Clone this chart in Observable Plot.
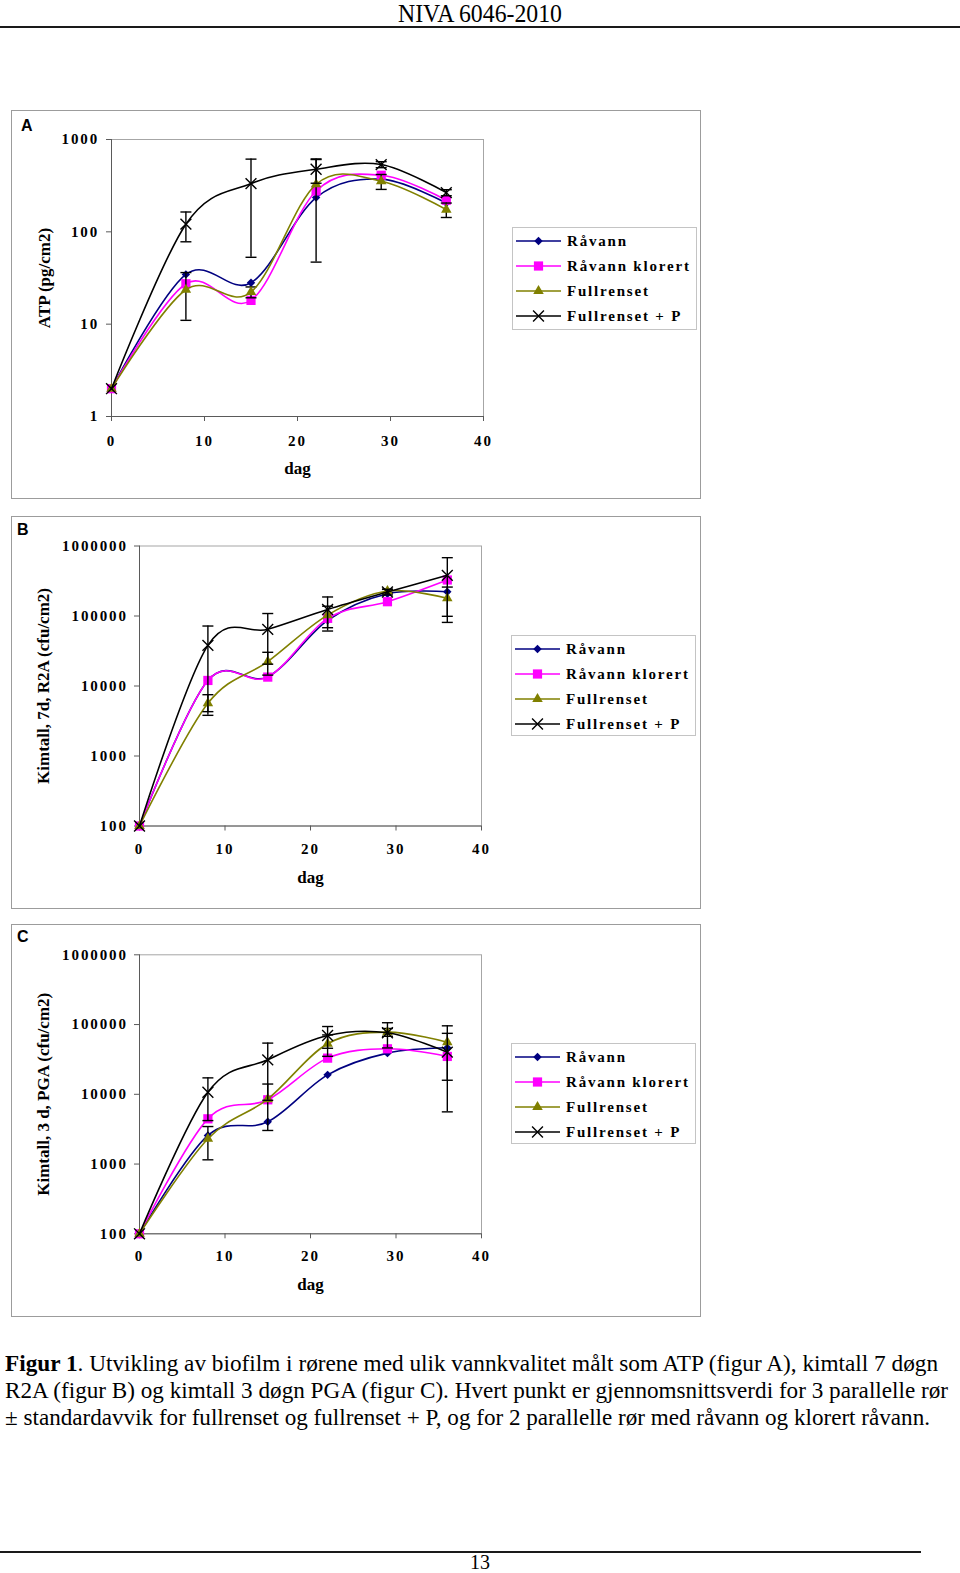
<!DOCTYPE html>
<html lang="no">
<head>
<meta charset="utf-8">
<title>Figur 1 – NIVA 6046-2010</title>
<script src="https://cdn.jsdelivr.net/npm/d3@7"></script>
<script src="https://cdn.jsdelivr.net/npm/@observablehq/plot@0.6"></script>
<style>
html,body{margin:0;padding:0;background:#fff;}
#page{position:relative;width:960px;height:1573px;overflow:hidden;background:#fff;font-family:"Liberation Serif","Times New Roman",serif;color:#000;}
.box{position:absolute;box-sizing:border-box;border:1px solid #9c9c9c;}
.plabel{position:absolute;font-family:"Liberation Sans",Arial,sans-serif;font-weight:bold;font-size:16px;line-height:16px;}
.chart{position:absolute;left:0;overflow:visible;}
.chart g[aria-label="y-axis tick label"], .chart g[aria-label="x-axis tick label"]{letter-spacing:1.9px;}
.legend{position:absolute;}
.legend text{font-family:"Liberation Serif","Times New Roman",serif;font-weight:bold;font-size:15px;letter-spacing:1.8px;}
.tline{position:absolute;white-space:nowrap;transform-origin:0 0;}
.rule{position:absolute;background:#1a1a1a;}
</style>
</head>
<body>
<div id="page"></div>
<script>
// ---------- data ----------
const days = [0, 8, 15, 22, 29, 36];
const seriesNames = ["Råvann", "Råvann klorert", "Fullrenset", "Fullrenset + P"];
const seriesColors = ["#000080", "#ff00ff", "#808000", "#000000"];
const xTicks = [0, 10, 20, 30, 40];
const xTitle = "dag";

// Panel A – ATP (pg/cm2)
const atpRavann        = [2, 34.6, 28.1, 235, 372, 205];
const atpRavannKlorert = [2, 27.4, 18.1, 277, 410, 220];
const atpFullrenset    = [2, 23.6, 22.3, 327, 353, 174];
const atpFullrensetP   = [2, 121, 333, 476, 535, 266];
const atpFullrensetSd  = [0, 12.6, 3, 280, 65, 31];
const atpFullrensetPSd = [0, 43, 280, 140, 40, 20];
const atpTicks = [1, 10, 100, 1000];

// Panel B – Kimtall, 7d, R2A (cfu/cm2)
const r2aRavann        = [100, 12000, 13500, 86700, 208000, 222000];
const r2aRavannKlorert = [100, 12000, 13400, 92600, 160000, 327000];
const r2aFullrenset    = [100, 5660, 22300, 103000, 227000, 179000];
const r2aFullrensetP   = [100, 38100, 64500, 124000, 220000, 381000];
const r2aFullrensetSd  = [0, 1850, 8000, 35000, 15000, 80000];
const r2aFullrensetPSd = [0, 33800, 44000, 63000, 20000, 300000];

// Panel C – Kimtall, 3 d, PGA (cfu/cm2)
const pgaRavann        = [100, 2570, 4030, 19000, 38900, 46400];
const pgaRavannKlorert = [100, 4450, 8340, 33000, 44900, 34900];
const pgaFullrenset    = [100, 2300, 8530, 53000, 77800, 55900];
const pgaFullrensetP   = [100, 10700, 31200, 69700, 76200, 40200];
const pgaFullrensetSd  = [0, 1150, 5500, 18000, 10000, 40000];
const pgaFullrensetPSd = [0, 6500, 23000, 24000, 30000, 34600];

const cfuTicks = [100, 1000, 10000, 100000, 1000000];

const headerText = "NIVA 6046-2010";
const pageNumber = "13";
const captionLines = [
  "<b>Figur 1</b>. Utvikling av biofilm i rørene med ulik vannkvalitet målt som ATP (figur A), kimtall 7 døgn",
  "R2A (figur B) og kimtall 3 døgn PGA (figur C). Hvert punkt er gjennomsnittsverdi for 3 parallelle rør",
  "± standardavvik for fullrenset og fullrenset + P, og for 2 parallelle rør med råvann og klorert råvann."
];

const panels = [
  {letter: "A", yTitle: "ATP (pg/cm2)", yDomain: [1, 1000], yTicks: atpTicks,
   values: [atpRavann, atpRavannKlorert, atpFullrenset, atpFullrensetP],
   sds: [null, null, atpFullrensetSd, atpFullrensetPSd]},
  {letter: "B", yTitle: "Kimtall, 7d, R2A (cfu/cm2)", yDomain: [100, 1000000], yTicks: cfuTicks,
   values: [r2aRavann, r2aRavannKlorert, r2aFullrenset, r2aFullrensetP],
   sds: [null, null, r2aFullrensetSd, r2aFullrensetPSd]},
  {letter: "C", yTitle: "Kimtall, 3 d, PGA (cfu/cm2)", yDomain: [100, 1000000], yTicks: cfuTicks,
   values: [pgaRavann, pgaRavannKlorert, pgaFullrenset, pgaFullrensetP],
   sds: [null, null, pgaFullrensetSd, pgaFullrensetPSd]}
];

// ---------- layout (pixel geometry only) ----------
const layouts = [
  {boxTop: 110, boxH: 389, mt: 29, mb: 83, ml: 111, mr: 17, letterLeft: 21, letterTop: 118,
   titleX: 44, xPad: 13.5, yPad: 7.4, xTitleDy: 52, legLeft: 512, legTop: 227, legH: 103},
  {boxTop: 515.5, boxH: 393.5, mt: 29.5, mb: 84, ml: 139, mr: 19, letterLeft: 17, letterTop: 522,
   titleX: 43, xPad: 12.5, yPad: 6.6, xTitleDy: 52, legLeft: 511, legTop: 635, legH: 101},
  {boxTop: 924, boxH: 393, mt: 30.3, mb: 83.7, ml: 139, mr: 19, letterLeft: 17, letterTop: 929,
   titleX: 43, xPad: 11.5, yPad: 6.6, xTitleDy: 51, legLeft: 510.5, legTop: 1043, legH: 101}
];

const symbols = ["diamond2", "square", "triangle", "times"];
const d3Symbols = [d3.symbolDiamond2, d3.symbolSquare, d3.symbolTriangle, d3.symbolTimes];
const radii = [3.8, 5.2, 3.9, 5];
const capSymbol = {draw(ctx, size) { const w = Math.sqrt(size) / 2; ctx.moveTo(-w, 0); ctx.lineTo(w, 0); }};

const page = document.getElementById("page");
function el(tag, cls, style, html) {
  const e = document.createElement(tag);
  if (cls) e.className = cls;
  Object.assign(e.style, style || {});
  if (html != null) e.innerHTML = html;
  page.appendChild(e);
  return e;
}

// header
const hdr = el("div", "tline", {top: "1px", left: "0px", fontSize: "25px", lineHeight: "25px"}, headerText);
{
  const w = hdr.getBoundingClientRect().width;
  const target = 164, s = target / w;
  hdr.style.left = (480 - target / 2) + "px";
  hdr.style.transform = `scaleX(${s})`;
}
el("div", "rule", {left: "0px", top: "26px", width: "960px", height: "2px"});

panels.forEach((p, k) => {
  const L = layouts[k];
  el("div", "box", {left: "11px", top: L.boxTop + "px", width: "690px", height: L.boxH + "px"});
  el("div", "plabel", {left: L.letterLeft + "px", top: L.letterTop + "px"}, p.letter);

  const marks = [
    Plot.frame({stroke: "#a6a6a6", strokeWidth: 1}),
    Plot.ruleX([0], {stroke: "#5a5a5a", strokeWidth: 1}),
    Plot.ruleY([p.yDomain[0]], {stroke: "#5a5a5a", strokeWidth: 1}),
    Plot.axisX({ticks: xTicks, tickFormat: d => String(d), tickSize: 5, tickPadding: L.xPad, stroke: "#5a5a5a", label: null}),
    Plot.axisY({ticks: p.yTicks, tickFormat: d => String(d), tickSize: 5, tickPadding: L.yPad, stroke: "#5a5a5a", label: null}),
    Plot.text([xTitle], {text: d => d, frameAnchor: "bottom", dy: L.xTitleDy, lineAnchor: "middle", fontSize: 17, fontWeight: "bold"}),
    Plot.text([p.yTitle], {text: d => d, frameAnchor: "left", dx: L.titleX - L.ml, rotate: -90, textAnchor: "middle", lineAnchor: "middle", fontSize: 17, fontWeight: "bold"})
  ];

  seriesNames.forEach((name, s) => {
    const vals = p.values[s];
    const data = days.map((day, i) => ({series: name, day, value: vals[i]}));
    const sd = p.sds[s];
    if (sd) {
      const err = days.map((day, i) => ({day, lo: vals[i] - sd[i], hi: vals[i] + sd[i], sd: sd[i]})).filter(d => d.sd > 0);
      marks.push(Plot.ruleX(err, {x: "day", y1: "lo", y2: "hi", stroke: "#000", strokeWidth: 1.4}));
      marks.push(Plot.dot(err, {x: "day", y: "lo", symbol: capSymbol, r: 6.2, stroke: "#000", fill: "none", strokeWidth: 1.4}));
      marks.push(Plot.dot(err, {x: "day", y: "hi", symbol: capSymbol, r: 6.2, stroke: "#000", fill: "none", strokeWidth: 1.4}));
    }
    marks.push(Plot.line(data, {x: "day", y: "value", stroke: seriesColors[s], strokeWidth: 1.6, curve: "cardinal"}));
    if (symbols[s] === "times") {
      marks.push(Plot.dot(data, {x: "day", y: "value", symbol: "times", r: radii[s], stroke: seriesColors[s], fill: "none", strokeWidth: 1.4}));
    } else {
      marks.push(Plot.dot(data, {x: "day", y: "value", symbol: symbols[s], r: radii[s], fill: seriesColors[s], stroke: "none"}));
    }
  });

  const svg = Plot.plot({
    width: 500, height: L.boxH,
    marginTop: L.mt, marginBottom: L.mb, marginLeft: L.ml, marginRight: L.mr,
    x: {domain: [0, 40]},
    y: {type: "log", domain: p.yDomain},
    style: {fontFamily: "'Liberation Serif','Times New Roman',serif", fontSize: "15px", fontWeight: "bold", background: "transparent", overflow: "visible", color: "#000"},
    marks
  });
  svg.classList.add("chart");
  svg.style.top = L.boxTop + "px";
  svg.style.position = "absolute";
  svg.style.left = "0px";
  page.appendChild(svg);

  // legend
  const lw = 185, lh = L.legH;
  const lg = d3.create("svg").attr("class", "legend").attr("width", lw).attr("height", lh)
    .style("left", L.legLeft + "px").style("top", L.legTop + "px");
  lg.append("rect").attr("x", 0.5).attr("y", 0.5).attr("width", lw - 1).attr("height", lh - 1)
    .attr("fill", "#fff").attr("stroke", "#c4c4c4");
  seriesNames.forEach((name, s) => {
    const g = lg.append("g").attr("transform", `translate(0,${14 + 25 * s})`);
    g.append("line").attr("x1", 4).attr("x2", 49).attr("y1", 0).attr("y2", 0)
      .attr("stroke", seriesColors[s]).attr("stroke-width", 1.6);
    const path = d3.symbol(d3Symbols[s], Math.PI * radii[s] * radii[s])();
    const sp = g.append("path").attr("d", path).attr("transform", "translate(26.5,0)");
    if (symbols[s] === "times") sp.attr("fill", "none").attr("stroke", seriesColors[s]).attr("stroke-width", 1.4);
    else sp.attr("fill", seriesColors[s]);
    g.append("text").attr("x", 55).attr("dy", "0.35em").text(name);
  });
  page.appendChild(lg.node());
});

// caption
const capTops = [1351, 1378, 1405];
const capTargets = [933, 943, 925];
captionLines.forEach((html, i) => {
  const d = el("div", "tline", {left: "5px", top: capTops[i] + "px", fontSize: "24px", lineHeight: "24px"}, html);
  const w = d.getBoundingClientRect().width;
  d.style.transform = `scaleX(${capTargets[i] / w})`;
});

// footer
el("div", "rule", {left: "0px", top: "1551px", width: "921px", height: "2px"});
const pn = el("div", "tline", {top: "1552px", left: "0px", fontSize: "20px", lineHeight: "20px"}, pageNumber);
{
  const w = pn.getBoundingClientRect().width;
  pn.style.left = (480 - w / 2) + "px";
}
</script>
</body>
</html>
